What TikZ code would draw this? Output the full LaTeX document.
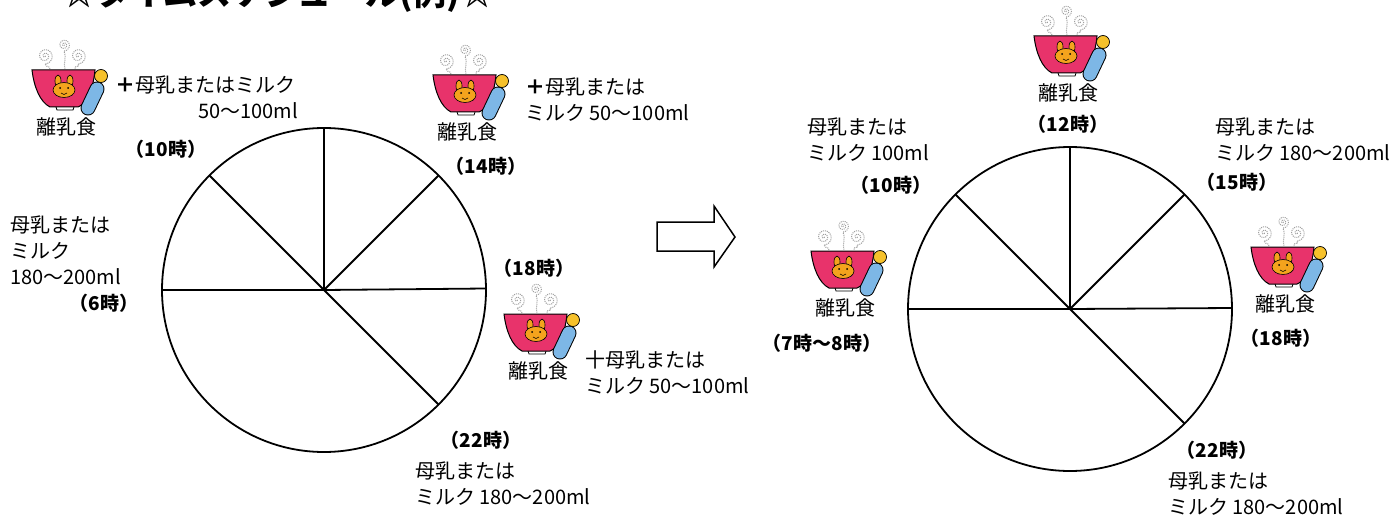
\documentclass[tikz,border=0pt]{standalone}
\usepackage{fontspec}
\newfontfamily\jp{Noto Sans CJK JP}
\usetikzlibrary{positioning}
\definecolor{bowlpink}{HTML}{E8336B}
\definecolor{bunny}{HTML}{F4A31D}
\definecolor{bottle}{HTML}{7DB7E6}
\definecolor{nipple}{HTML}{F6C12B}

% meal icon: steam, bowl with bunny face, baby bottle (origin = label centre)
\tikzset{
  bowlicon/.pic={
    \foreach \cx/\cy/\rr/\ex in {-21/-71/8/-16, -2/-82/6/-1, 12/-71/8/9}{
      \draw[gray!75,densely dotted,line width=1pt]
        plot[domain=0:810,samples=60,smooth] ({\cx+\rr*\x/810*cos(\x)},{\cy+\rr*\x/810*sin(\x)})
        .. controls +(3,5) and +(-2,-5) .. (\ex,-58);
    }
    \draw[line width=1pt,fill=bowlpink] (-34,-57) -- (29,-57)
      .. controls (27,-36) and (20,-23) .. (12,-20) -- (-16,-20)
      .. controls (-26,-25) and (-32,-40) .. cycle;
    \draw[line width=0.8pt] (-10,-20) -- (-9,-17) -- (7,-17) -- (8,-20);
    % bunny
    \draw[fill=bunny,line width=0.6pt] (-8,-46) ellipse (3 and 6);
    \draw[fill=bunny,line width=0.6pt] (4,-46) ellipse (3 and 6);
    \draw[fill=bunny,line width=0.6pt] (-2,-37) ellipse (11 and 7.5);
    \fill (-6,-39) circle (1);
    \fill (2,-39) circle (1);
    \draw[line width=0.6pt] (-5,-34) -- (-2,-32.5) -- (1,-34);
    % bottle
    \draw[line width=15pt,line cap=round] (22,-19) -- (31,-38);
    \draw[line width=13pt,line cap=round,bottle] (22,-19) -- (31,-38);
    \draw[fill=nipple,line width=0.7pt] (35,-51) circle (6.5);
  }
}

\begin{document}
\begin{tikzpicture}[x=1pt,y=-1pt,
    txt/.style={font=\jp\fontsize{20}{26}\selectfont,inner sep=0,anchor=west,align=left},
    meal/.style={font=\jp\fontsize{20}{22}\selectfont,inner sep=0},
    hour/.style={font=\jp\bfseries\fontsize{19}{22}\selectfont,inner sep=0},
    clock/.style={line width=1.8pt},
    spoke/.style={line width=1.8pt}]
  \path[use as bounding box,fill=white] (0,0) rectangle (1399,516);

  \node[font=\jp\bfseries\fontsize{34}{34}\selectfont,anchor=base west,inner sep=0] (ttl)
    at (62,6) {☆タイムスケジュール(例)☆};

  % before
  \coordinate (lc) at (324,290);
  \draw[clock] (lc) circle[radius=162];
  \draw[spoke] (lc) -- ++(0,-162);
  \draw[spoke] (lc) -- ++(-114.5,-114.5);
  \draw[spoke] (lc) -- ++(114.5,-114.5);
  \draw[spoke] (lc) -- ++(162,-1.5);
  \draw[spoke] (lc) -- ++(114.5,114.5);
  \draw[spoke] (lc) -- ++(-162,0);

  \pic at (66,127) {bowlicon};
  \node[meal] (m1) at (66,127) {離乳食};
  \node[txt] (p1) at (115,85) {\textbf{＋}母乳またはミルク};
  \node[txt] (v1) at (198,111) {50〜100ml};
  \node[hour] (h10) at (166,149) {（10時）};

  \pic at (467,132) {bowlicon};
  \node[meal] (m2) at (467,132) {離乳食};
  \node[txt] (p2) at (525,100) {\textbf{＋}母乳または\\ミルク 50〜100ml};
  \node[hour] (h14) at (486,166) {（14時）};
  \node[hour] (h18) at (534,268) {（18時）};

  \pic at (538,371) {bowlicon};
  \node[meal] (m3) at (538,371) {離乳食};
  \node[txt] (p3) at (585,373) {十母乳または\\ミルク 50〜100ml};
  \node[hour] (h22) at (481,440) {（22時）};
  \node[txt] (p4) at (415,484) {母乳または\\ミルク 180〜200ml};

  \node[txt] (p5) at (10,250) {母乳または\\ミルク\\180〜200ml};
  \node[hour] (h6) at (104,303) {（6時）};

  % arrow
  \draw[line width=1.5pt,line join=miter] (657,222) -- (714,222) -- (714,206) -- (735,237)
    -- (714,267) -- (714,251) -- (657,251) -- cycle;

  % after
  \coordinate (rc) at (1070,309);
  \draw[clock] (rc) circle[radius=162];
  \draw[spoke] (rc) -- ++(0,-162);
  \draw[spoke] (rc) -- ++(-114.5,-114.5);
  \draw[spoke] (rc) -- ++(114.5,-114.5);
  \draw[spoke] (rc) -- ++(162,-1);
  \draw[spoke] (rc) -- ++(114.5,114.5);
  \draw[spoke] (rc) -- ++(-162,0);

  \node[txt] (q1) at (807,140) {母乳または\\ミルク 100ml};
  \node[hour] (k10) at (891,185) {（10時）};
  \pic at (845,308) {bowlicon};
  \node[meal] (n1) at (845,308) {離乳食};
  \node[hour] (k7) at (822,343) {（7時〜8時）};

  \pic at (1068,93) {bowlicon};
  \node[meal] (n2) at (1068,93) {離乳食};
  \node[hour] (k12) at (1068,124) {（12時）};

  \node[txt] (q2) at (1215,140) {母乳または\\ミルク 180〜200ml};
  \node[hour] (k15) at (1237,182) {（15時）};
  \pic at (1285,304) {bowlicon};
  \node[meal] (n3) at (1285,304) {離乳食};
  \node[hour] (k18) at (1281,338) {（18時）};

  \node[hour] (k22) at (1217,450) {（22時）};
  \node[txt] (q3) at (1168,494) {母乳または\\ミルク 180〜200ml};
\end{tikzpicture}
\end{document}
